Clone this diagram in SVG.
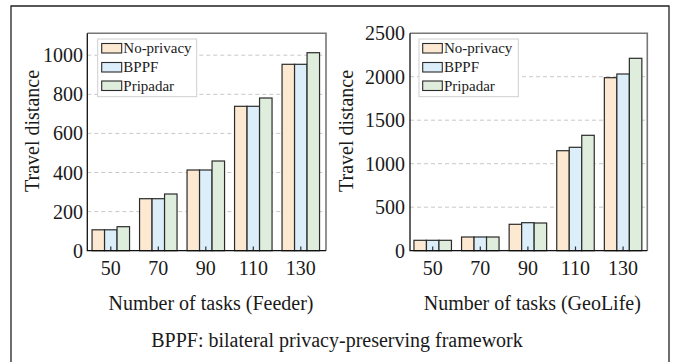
<svg xmlns="http://www.w3.org/2000/svg" width="674" height="362" viewBox="0 0 674 362" font-family="Liberation Serif, Times New Roman, serif">
  <style>
    text { fill: #1a1a1a; }
    .tick { font-size: 20px; }
    .ytick { text-anchor: end; }
    .xtick { text-anchor: middle; }
    .title { font-size: 20px; text-anchor: middle; }
    .leg { font-size: 15px; }
    .grid { stroke: #c8c8c8; stroke-width: 1; stroke-dasharray: 4 3; fill: none; }
    .bar { stroke: #2b2b2b; stroke-width: 1.2; }
    .np { fill: #fde9d2; }
    .bp { fill: #dbeef9; }
    .pr { fill: #dfeddd; }
    .spineA { stroke: #111; stroke-width: 1.3; fill: none; }
    .spineB { stroke: #777; stroke-width: 1.6; fill: none; }
    .mark { stroke: #333; stroke-width: 1.2; }
    .legbox { fill: #ffffff; stroke: #cfcfcf; stroke-width: 1; }
    .legpatch { stroke: #2b2b2b; stroke-width: 1.1; }
  </style>

  <!-- outer frame -->
  <path d="M11 362 V6 H669 V362" fill="none" stroke="#222" stroke-width="1.3"/>

  <!-- left chart: Feeder -->
  <g id="chart-feeder">
    <g class="grids">
      <line class="grid" x1="87.3" y1="211.6" x2="326" y2="211.6"/>
      <line class="grid" x1="87.3" y1="172.5" x2="326" y2="172.5"/>
      <line class="grid" x1="87.3" y1="133.4" x2="326" y2="133.4"/>
      <line class="grid" x1="87.3" y1="94.3" x2="326" y2="94.3"/>
      <line class="grid" x1="87.3" y1="55.2" x2="326" y2="55.2"/>
    </g>
    <g id="bars-feeder">
      <rect class="bar np" x="92.05" y="229.8" width="12.5" height="20.9"/>
      <rect class="bar bp" x="104.55" y="229.8" width="12.5" height="20.9"/>
      <rect class="bar pr" x="117.05" y="226.7" width="12.5" height="24.0"/>

      <rect class="bar np" x="139.55" y="198.7" width="12.5" height="52.0"/>
      <rect class="bar bp" x="152.05" y="198.7" width="12.5" height="52.0"/>
      <rect class="bar pr" x="164.55" y="194.0" width="12.5" height="56.7"/>

      <rect class="bar np" x="187.05" y="170.0" width="12.5" height="80.7"/>
      <rect class="bar bp" x="199.55" y="170.0" width="12.5" height="80.7"/>
      <rect class="bar pr" x="212.05" y="161.0" width="12.5" height="89.7"/>

      <rect class="bar np" x="234.55" y="106.3" width="12.5" height="144.4"/>
      <rect class="bar bp" x="247.05" y="106.3" width="12.5" height="144.4"/>
      <rect class="bar pr" x="259.55" y="98.0" width="12.5" height="152.7"/>

      <rect class="bar np" x="282.05" y="64.3" width="12.5" height="186.4"/>
      <rect class="bar bp" x="294.55" y="64.3" width="12.5" height="186.4"/>
      <rect class="bar pr" x="307.05" y="52.7" width="12.5" height="198.0"/>
    </g>
    <g class="marks">
      <line class="mark" x1="110.8" y1="250.7" x2="110.8" y2="246.5"/>
      <line class="mark" x1="158.3" y1="250.7" x2="158.3" y2="246.5"/>
      <line class="mark" x1="205.8" y1="250.7" x2="205.8" y2="246.5"/>
      <line class="mark" x1="253.3" y1="250.7" x2="253.3" y2="246.5"/>
      <line class="mark" x1="300.8" y1="250.7" x2="300.8" y2="246.5"/>
    </g>
    <path class="spineB" d="M87.3 33.3 H326 V250.7"/>
    <path class="spineA" d="M87.3 33.3 V250.7 H326"/>
    <g class="tick ytick">
      <text x="83" y="257.7">0</text>
      <text x="83" y="218.6">200</text>
      <text x="83" y="179.5">400</text>
      <text x="83" y="140.4">600</text>
      <text x="83" y="101.3">800</text>
      <text x="83" y="62.2">1000</text>
    </g>
    <g class="tick xtick">
      <text x="110.8" y="275">50</text>
      <text x="158.3" y="275">70</text>
      <text x="205.8" y="275">90</text>
      <text x="253.3" y="275">110</text>
      <text x="300.8" y="275">130</text>
    </g>
    <text class="title" transform="translate(39 131) rotate(-90)">Travel distance</text>
    <text class="title" x="211" y="310">Number of tasks (Feeder)</text>
    <g id="legend-feeder">
      <rect class="legbox" x="97.7" y="39" width="99" height="57.7"/>
      <rect class="legpatch np" x="101.7" y="43.5" width="20" height="9.5"/>
      <rect class="legpatch bp" x="101.7" y="62.5" width="20" height="9.5"/>
      <rect class="legpatch pr" x="101.7" y="81" width="20" height="9.5"/>
      <text class="leg" x="123.3" y="53.3">No-privacy</text>
      <text class="leg" x="123.3" y="72">BPPF</text>
      <text class="leg" x="123.3" y="90.7">Pripadar</text>
    </g>
  </g>

  <!-- right chart: GeoLife -->
  <g id="chart-geolife">
    <g class="grids">
      <line class="grid" x1="410" y1="207.2" x2="647.3" y2="207.2"/>
      <line class="grid" x1="410" y1="163.7" x2="647.3" y2="163.7"/>
      <line class="grid" x1="410" y1="120.2" x2="647.3" y2="120.2"/>
      <line class="grid" x1="410" y1="76.7" x2="647.3" y2="76.7"/>
    </g>
    <g id="bars-geolife">
      <rect class="bar np" x="413.95" y="240.3" width="12.5" height="10.4"/>
      <rect class="bar bp" x="426.45" y="240.3" width="12.5" height="10.4"/>
      <rect class="bar pr" x="438.95" y="240.3" width="12.5" height="10.4"/>

      <rect class="bar np" x="461.55" y="237.0" width="12.5" height="13.7"/>
      <rect class="bar bp" x="474.05" y="237.0" width="12.5" height="13.7"/>
      <rect class="bar pr" x="486.55" y="237.0" width="12.5" height="13.7"/>

      <rect class="bar np" x="509.15" y="224.3" width="12.5" height="26.4"/>
      <rect class="bar bp" x="521.65" y="222.7" width="12.5" height="28.0"/>
      <rect class="bar pr" x="534.15" y="223.0" width="12.5" height="27.7"/>

      <rect class="bar np" x="556.75" y="150.7" width="12.5" height="100.0"/>
      <rect class="bar bp" x="569.25" y="147.3" width="12.5" height="103.4"/>
      <rect class="bar pr" x="581.75" y="135.3" width="12.5" height="115.4"/>

      <rect class="bar np" x="604.35" y="77.7" width="12.5" height="173.0"/>
      <rect class="bar bp" x="616.85" y="74.0" width="12.5" height="176.7"/>
      <rect class="bar pr" x="629.35" y="58.3" width="12.5" height="192.4"/>
    </g>
    <g class="marks">
      <line class="mark" x1="432.7" y1="250.7" x2="432.7" y2="246.5"/>
      <line class="mark" x1="480.3" y1="250.7" x2="480.3" y2="246.5"/>
      <line class="mark" x1="527.9" y1="250.7" x2="527.9" y2="246.5"/>
      <line class="mark" x1="575.5" y1="250.7" x2="575.5" y2="246.5"/>
      <line class="mark" x1="623.1" y1="250.7" x2="623.1" y2="246.5"/>
    </g>
    <path class="spineB" d="M410 33.3 H647.3 V250.7"/>
    <path class="spineA" d="M410 33.3 V250.7 H647.3"/>
    <g class="tick ytick">
      <text x="405" y="257.7">0</text>
      <text x="405" y="214.2">500</text>
      <text x="405" y="170.7">1000</text>
      <text x="405" y="127.2">1500</text>
      <text x="405" y="83.7">2000</text>
      <text x="405" y="40.2">2500</text>
    </g>
    <g class="tick xtick">
      <text x="432.7" y="275">50</text>
      <text x="480.3" y="275">70</text>
      <text x="527.9" y="275">90</text>
      <text x="575.5" y="275">110</text>
      <text x="623.1" y="275">130</text>
    </g>
    <text class="title" transform="translate(353 131) rotate(-90)">Travel distance</text>
    <text class="title" x="532.3" y="310">Number of tasks (GeoLife)</text>
    <g id="legend-geolife">
      <rect class="legbox" x="419" y="39" width="99.3" height="57.7"/>
      <rect class="legpatch np" x="422.7" y="43.5" width="19.6" height="9.5"/>
      <rect class="legpatch bp" x="422.7" y="62.5" width="19.6" height="9.5"/>
      <rect class="legpatch pr" x="422.7" y="81" width="19.6" height="9.5"/>
      <text class="leg" x="444" y="53.3">No-privacy</text>
      <text class="leg" x="444" y="72">BPPF</text>
      <text class="leg" x="444" y="90.7">Pripadar</text>
    </g>
  </g>

  <text class="title" x="337" y="346.7">BPPF: bilateral privacy-preserving framework</text>
</svg>
